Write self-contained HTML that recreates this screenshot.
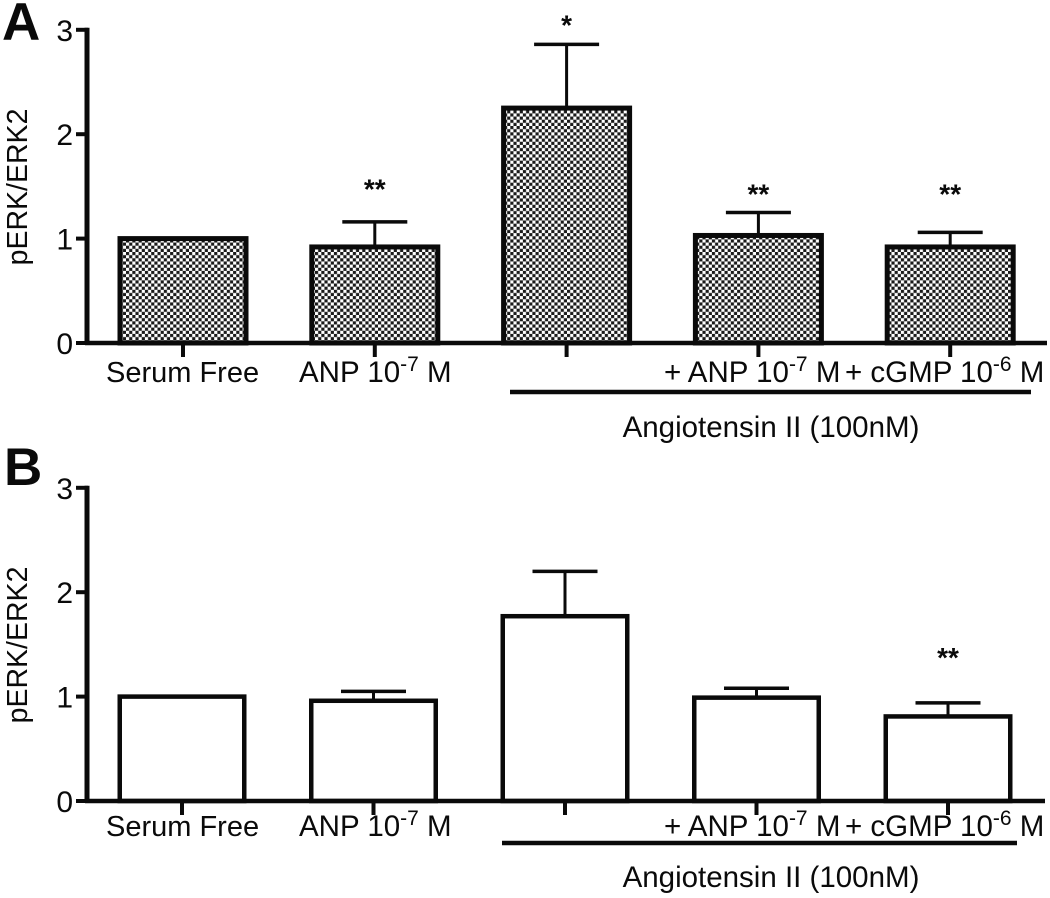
<!DOCTYPE html>
<html>
<head>
<meta charset="utf-8">
<style>
html,body{margin:0;padding:0;background:#fff;width:1050px;height:898px;overflow:hidden}
svg{display:block}
text{font-family:"Liberation Sans",Arial,sans-serif;fill:#0a0a0a}
</style>
</head>
<body>
<svg id="figure" width="1050" height="898" viewBox="0 0 1050 898" xmlns="http://www.w3.org/2000/svg">
<defs>
<pattern id="checker" patternUnits="userSpaceOnUse" width="6.3" height="6.3">
<rect width="6.3" height="6.3" fill="#fff"/>
<rect x="0" y="0" width="3.15" height="3.15" fill="#1a1a1a"/>
<rect x="3.15" y="3.15" width="3.15" height="3.15" fill="#1a1a1a"/>
</pattern>
</defs>
</svg>
<script>
const categories = ["Serum Free", "ANP", "Angiotensin II", "+ ANP", "+ cGMP"];
const yTicks = [0, 1, 2, 3];
const valuesA = [1.0, 0.92, 2.25, 1.03, 0.92];
const errorsA = [0, 0.24, 0.61, 0.22, 0.14];
const marksA = ["", "**", "*", "**", "**"];
const markLevelsA = [0, 1.52, 3.09, 1.47, 1.47];
const valuesB = [1.0, 0.96, 1.77, 0.99, 0.81];
const errorsB = [0, 0.09, 0.43, 0.09, 0.13];
const marksB = ["", "", "", "", "**"];
const markLevelsB = [0, 0, 0, 0, 1.42];

const NS = "http://www.w3.org/2000/svg";
const svg = document.getElementById("figure");

function mk(parent, tag, attrs, txt) {
  const el = document.createElementNS(NS, tag);
  for (const k in attrs) el.setAttribute(k, attrs[k]);
  if (txt !== undefined) el.textContent = txt;
  parent.appendChild(el);
  return el;
}
function line(parent, x1, y1, x2, y2, w) {
  return mk(parent, "line", {x1: x1, y1: y1, x2: x2, y2: y2, stroke: "#0a0a0a", "stroke-width": w});
}
function sciLabel(parent, x, y, pre, exp, post) {
  const t = mk(parent, "text", {x: x, y: y, "font-size": 29.5});
  mk(t, "tspan", {}, pre);
  mk(t, "tspan", {dy: -11, "font-size": 21}, exp);
  mk(t, "tspan", {dy: 11}, " " + post);
  return t;
}

function drawPanel(opts) {
  const g = mk(svg, "g", {});
  
  
  const y0 = opts.y0, unit = opts.unit;
  const yScale = v => y0 - v * unit;
  const xScale = i => opts.x0 + i * opts.step;

  categories.forEach((c, i) => {
    const v = opts.values[i], e = opts.errors[i], cx = xScale(i);
    const top = yScale(v);
    const half = opts.barHalf;
    const inset = opts.stroke / 2;
    if (e > 0) {
      const err = mk(g, "g", {});
      
      
      line(err, cx, top, cx, yScale(v + e), 3);
      line(err, cx - 32.5, yScale(v + e), cx + 32.5, yScale(v + e), 3.5);
    }
    const bar = mk(g, "rect", {
      x: cx - half + inset, y: top, width: 2 * half - 2 * inset, height: y0 - top,
      fill: opts.fill, stroke: "#0a0a0a", "stroke-width": opts.stroke
    });
    
    
    const tick = line(g, cx, y0, cx, y0 + 14, 4);
    
    
    if (opts.marks[i]) {
      const s = mk(g, "text", {x: cx, y: yScale(opts.levels[i]) + 14, "font-size": 28, "font-weight": "bold", "text-anchor": "middle"}, opts.marks[i]);
      
      
    }
  });

  const yAxis = line(g, 87, yScale(3) - 2, 87, y0 + 2, 5);
  
  
  const xAxis = line(g, 85, y0, opts.axisEnd, y0, 4.5);
  
  

  yTicks.forEach(t => {
    const tk = line(g, 76, yScale(t), 88, yScale(t), 4);
    
    
    const lb = mk(g, "text", {x: 73, y: yScale(t) + 11, "font-size": 30, "text-anchor": "end"}, String(t));
    
    
  });

  const yt = mk(g, "text", {
    x: 0, y: 0, "font-size": 28.5, "text-anchor": "middle",
    transform: "translate(27," + (y0 - 156) + ") rotate(-90)"
  }, "pERK/ERK2");
  
  

  const baseline = opts.labelY;
  const l1 = mk(g, "text", {x: 106, y: baseline, "font-size": 29}, "Serum Free");
  
  
  const l2 = sciLabel(g, 299, baseline, "ANP 10", "-7", "M");
  
  
  const l3 = sciLabel(g, 664, baseline, "+ ANP 10", "-7", "M");
  
  
  const l4 = sciLabel(g, 845, baseline, "+ cGMP 10", "-6", "M");
  
  

  const br = line(g, opts.brX1, opts.brY, opts.brX2, opts.brY, 4.5);
  
  
  const l5 = mk(g, "text", {x: 771, y: opts.angY, "font-size": 29.5, "text-anchor": "middle"}, "Angiotensin II (100nM)");
  
  

  const p = mk(g, "text", {x: opts.letterX, y: opts.letterY, "font-size": 53, "font-weight": "bold"}, opts.letter);
  
  
}

drawPanel({name: "panel-a", letter: "A", letterX: 2, letterY: 40, y0: 343, unit: 104.4, x0: 183, step: 191.8,
  values: valuesA, errors: errorsA, marks: marksA, levels: markLevelsA, fill: "url(#checker)", stroke: 5, barHalf: 65.5,
  brX1: 510, brX2: 1031, brY: 392, angY: 437, labelY: 382, axisEnd: 1047});
drawPanel({name: "panel-b", letter: "B", letterX: 4, letterY: 485, y0: 801, unit: 104.4, x0: 182, step: 191.5,
  values: valuesB, errors: errorsB, marks: marksB, levels: markLevelsB, fill: "#fff", stroke: 4.5, barHalf: 64.5,
  brX1: 502, brX2: 1017, brY: 843, angY: 887, labelY: 836, axisEnd: 1045});
</script>
</body>
</html>
